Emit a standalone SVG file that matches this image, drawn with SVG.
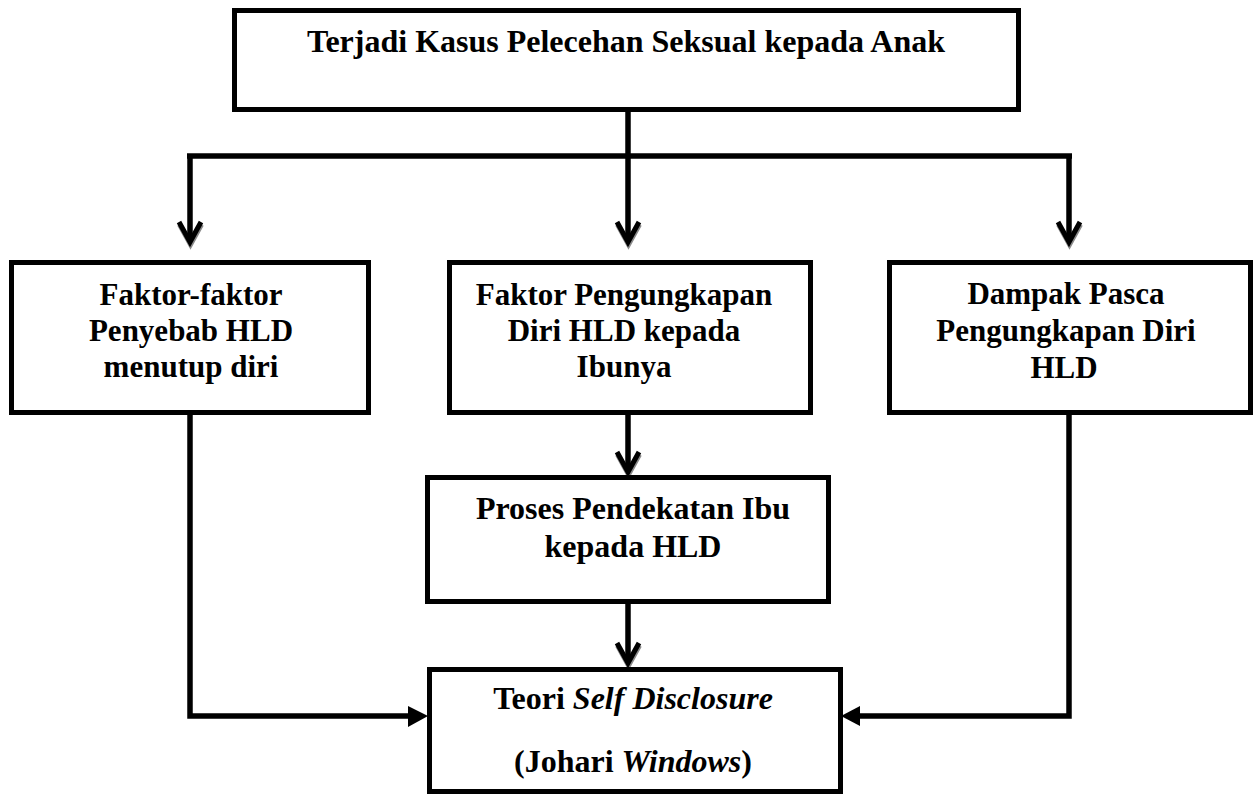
<svg xmlns="http://www.w3.org/2000/svg" width="1254" height="794" viewBox="0 0 1254 794">
<style>
.box{fill:#fff;stroke:#000;stroke-width:5}
.t{font-family:"Liberation Serif","Times New Roman",serif;font-weight:bold;font-size:31px;fill:#000;text-anchor:middle}
.big{font-size:32px}
.ln{fill:none;stroke:#000;stroke-width:5.5;stroke-linejoin:miter;stroke-linecap:butt}
.chev{fill:none;stroke:#000;stroke-width:5;stroke-linejoin:miter}
.chs{fill:none;stroke:#8a8a8a;stroke-width:5;stroke-linejoin:miter}
</style>
<defs>
<g id="down">
<path class="chs" d="M-11,-20 L0,0 L11,-20" transform="translate(0.5,2.5)"/>
<path class="chev" d="M-11,-20 L0,0 L11,-20"/>
</g>
</defs>
<g id="connectors">
<path class="ln" d="M628,112 V156"/>
<path class="ln" d="M187,156 H1072"/>
<path class="ln" d="M190,156 V240"/>
<path class="ln" d="M628,156 V240"/>
<path class="ln" d="M1069,156 V240"/>
<use href="#down" x="190" y="242"/>
<use href="#down" x="628" y="242"/>
<use href="#down" x="1069" y="242"/>
<path class="ln" d="M628,415 V470"/>
<use href="#down" x="628" y="472"/>
<path class="ln" d="M628,604 V661"/>
<use href="#down" x="628" y="663"/>
<path class="ln" d="M190,415 V716 H410"/>
<path d="M408,706 L428,716 L408,727 Z" fill="#000"/>
<path class="ln" d="M1069,415 V716 H858"/>
<path d="M860,706 L841,716 L860,726 Z" fill="#000"/>
</g>
<g id="top">
<rect class="box" x="234.5" y="10.5" width="784" height="99"/>
<text class="t big" x="626" y="52">Terjadi Kasus Pelecehan Seksual kepada Anak</text>
</g>
<g id="left">
<rect class="box" x="11.5" y="262.5" width="357" height="150"/>
<text class="t" x="191" y="305">Faktor-faktor</text>
<text class="t" x="191" y="341">Penyebab HLD</text>
<text class="t" x="191" y="377">menutup diri</text>
</g>
<g id="middle">
<rect class="box" x="449.5" y="262.5" width="361" height="150"/>
<text class="t" x="624" y="305">Faktor Pengungkapan</text>
<text class="t" x="624" y="341">Diri HLD kepada</text>
<text class="t" x="624" y="377">Ibunya</text>
</g>
<g id="right">
<rect class="box" x="889.5" y="262.5" width="361" height="150"/>
<text class="t" x="1066" y="304">Dampak Pasca</text>
<text class="t" x="1066" y="341">Pengungkapan Diri</text>
<text class="t" x="1064" y="378">HLD</text>
</g>
<g id="proses">
<rect class="box" x="427.5" y="477.5" width="401" height="124"/>
<text class="t big" x="633" y="519">Proses Pendekatan Ibu</text>
<text class="t big" x="633" y="557">kepada HLD</text>
</g>
<g id="teori">
<rect class="box" x="429.5" y="669.5" width="411" height="122"/>
<text class="t big" x="633" y="709">Teori <tspan font-style="italic">Self Disclosure</tspan></text>
<text class="t big" x="633" y="772">(Johari <tspan font-style="italic">Windows</tspan>)</text>
</g>
</svg>
